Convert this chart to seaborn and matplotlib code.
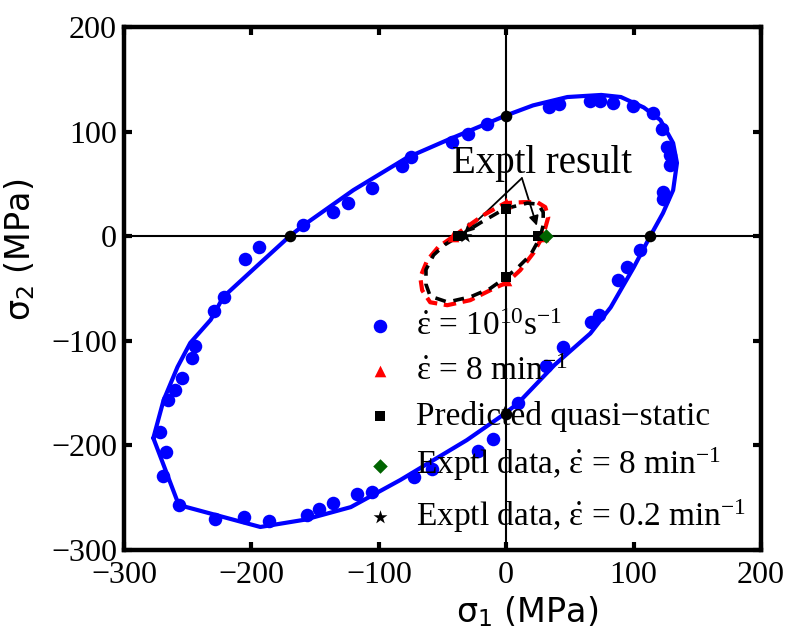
import numpy as np
import pandas as pd
import seaborn as sns
import matplotlib.pyplot as plt

sns.set_theme(style="white")
plt.rcParams['font.family'] = ['Liberation Serif', 'DejaVu Serif']
plt.rcParams['text.color'] = 'black'
plt.rcParams['mathtext.fontset'] = 'custom'
plt.rcParams['mathtext.rm'] = 'Liberation Serif'
plt.rcParams['mathtext.it'] = 'Liberation Serif'
plt.rcParams['mathtext.sf'] = 'DejaVu Sans'

# yield surface, high strain rate (solid line)
line_x = [-277, -269, -258, -248, -232, -222, -197, -170, -159, -120, -78, -46, -12.6, -1,
          21, 48, 74.6, 90, 108, 121, 131, 134, 131, 123, 113, 100, 82, 66, 38, 9, -5,
          -31, -57, -83, -122, -158, -193, -257, -277]
line_y = [-193, -157, -125, -102, -80, -58, -30, 0, 10.5, 44, 75, 92, 109, 115,
          125, 133, 135, 133, 123, 111, 89, 70, 44, 22, 0, -30, -68, -93, -123, -160, -173,
          -195, -214, -233, -259, -271, -278, -257, -193]

# MD points, 10^10 s^-1
dots_x = [-229.2, -221.4, -204.9, -193.9, -159.3, -135.8, -124.0, -105.2, -81.6, -74.6,
          -42.4, -29.8, -14.9, 33.8, 41.6, 65.9, 73.8, 84.0, 99.7, 115.4, 122.4, 126.4,
          128.7, 128.7, 123.2, 123.2, 105.2, 95.0, 87.9, 73.0, 66.7, 44.7, 31.4, 9.4,
          -10.2, -22.0, -58.1, -72.2, -105.2, -117.0, -135.8, -146.8, -156.2, -186.0,
          -205.7, -228.4, -256.7, -269.2, -266.9, -271.6, -265.3, -259.8, -254.3, -246.5, -244.1]
dots_y = [-71.8, -58.4, -22.0, -10.5, 10.5, 23.0, 31.6, 45.9, 67.0, 75.6,
          89.9, 97.6, 107.2, 123.4, 126.3, 129.2, 129.2, 127.3, 124.4, 117.7, 102.4, 85.2,
          77.5, 67.9, 42.1, 35.4, -13.4, -29.7, -42.1, -75.6, -82.3, -106.2, -124.4, -159.8,
          -194.3, -205.7, -223.0, -230.6, -245.0, -246.9, -255.5, -261.2, -267.0, -272.7,
          -268.9, -270.8, -257.4, -229.7, -206.7, -187.6, -156.9, -147.4, -135.9, -116.7, -105.3]

# axis crossings of the solid curve
cross_x = [-170, 0, 113, 0]
cross_y = [0, 115, 0, -170]

# 8 min^-1 loop (red dashed)
red_x = [-42.4, -18, -1, 13.3, 24.3, 30.6, 33, 30.6, 28.3, 21.2, 11, 0.8, -12.6, -28.3,
         -46.3, -59.7, -66, -67.5, -62, -53.4, -42.4]
red_y = [-1, 20, 31.6, 32.5, 32.5, 27.8, 18.2, 7.7, -1, -16.3, -32.5, -44, -51.7, -61.2,
         -66, -63.2, -51.7, -39.2, -23, -10.5, -1]

# predicted quasi-static loop (black dashed)
blk_x = [-38.5, -20, -1.5, 16.5, 25, 29, 29, 26.7, 19, 8.6, -1, -12.6, -28, -46, -59.7,
         -63, -63, -57, -48, -38.5]
blk_y = [-1, 13, 26, 31.6, 30.6, 23, 10.5, -1, -18, -30.6, -40, -50, -58, -63, -57.4,
         -46, -32, -18, -8, -1]

tri_x = [-42, 0, 29, 0]
tri_y = [0, 32, 0, -42]
sq_x = [-38, 0, 25, 0]
sq_y = [0, 26, 0, -39]
dia_x = [31]
dia_y = [0]
star_x = [-32]
star_y = [0]

fig = plt.figure(figsize=(7.94, 6.34), dpi=100)
ax = fig.add_axes([0.1562, 0.1325, 0.8023, 0.825])

ax.axhline(0, color='black', lw=1.5, zorder=1)
ax.axvline(0, color='black', lw=1.5, zorder=1)

sns.lineplot(x=line_x, y=line_y, sort=False, estimator=None, color='blue', lw=3, ax=ax, zorder=2)
sns.scatterplot(x=dots_x, y=dots_y, color='blue', s=95, linewidth=0, ax=ax, zorder=3,
                label=r'$\dot{\varepsilon}$ = 10$^{10}$s$^{-1}$')

sns.lineplot(x=red_x, y=red_y, sort=False, estimator=None, color='red', lw=3, ax=ax, zorder=4)
ax.lines[-1].set_dashes([3, 1.6])
sns.lineplot(x=blk_x, y=blk_y, sort=False, estimator=None, color='black', lw=2.6, ax=ax, zorder=4)
ax.lines[-1].set_dashes([3, 2.2])

sns.scatterplot(x=tri_x, y=tri_y, color='red', marker='^', s=70, linewidth=0, ax=ax, zorder=5,
                label=r'$\dot{\varepsilon}$ = 8 min$^{-1}$')
sns.scatterplot(x=sq_x, y=sq_y, color='black', marker='s', s=55, linewidth=0, ax=ax, zorder=6,
                label='Predicted quasi\u2212static')
sns.scatterplot(x=dia_x, y=dia_y, color='#006400', marker='D', s=55, linewidth=0, ax=ax, zorder=6,
                label=r'Exptl data, $\dot{\varepsilon}$ = 8 min$^{-1}$')
sns.scatterplot(x=star_x, y=star_y, color='black', marker='*', s=110, linewidth=0, ax=ax, zorder=6,
                label=r'Exptl data, $\dot{\varepsilon}$ = 0.2 min$^{-1}$')
sns.scatterplot(x=cross_x, y=cross_y, color='black', s=70, linewidth=0, ax=ax, zorder=4)

# annotation with two arrows
ax.text(28, 69, 'Exptl result', fontsize=28, ha='center', va='center', color='black')
for hx, hy in [(-33, 3), (24, 10)]:
    ax.annotate('', xy=(hx, hy), xytext=(12.3, 55.5),
                arrowprops=dict(arrowstyle='-|>', color='black', lw=1.3,
                                mutation_scale=14, shrinkA=0, shrinkB=0))

ax.set_xlim(-300, 200)
ax.set_ylim(-300, 200)
ax.set_xticks(np.arange(-300, 201, 100))
ax.set_yticks(np.arange(-300, 201, 100))
ax.tick_params(direction='in', length=6, width=3, labelsize=23, top=True, right=True,
               bottom=True, left=True, colors='black')
ax.tick_params(axis='x', pad=8)
ax.tick_params(axis='y', pad=5)
for sp in ax.spines.values():
    sp.set_linewidth(3.2)
    sp.set_color('black')

ax.set_xlabel(r'σ$_\mathsf{1}$ (MPa)', fontsize=24, family='DejaVu Sans', color='black')
ax.set_ylabel(r'σ$_\mathsf{2}$ (MPa)', fontsize=24, family='DejaVu Sans', color='black')
ax.xaxis.set_label_coords(0.633, -0.085)
ax.yaxis.set_label_coords(-0.137, 0.574)

leg = ax.legend(loc='upper left', bbox_to_anchor=(0.375, 0.456), frameon=False, fontsize=24,
                borderpad=0, borderaxespad=0, handlelength=1.0, handletextpad=0.6,
                labelspacing=0.42)
for t in leg.get_texts():
    t.set_color('black')

fig.savefig('out.png', dpi=100)
